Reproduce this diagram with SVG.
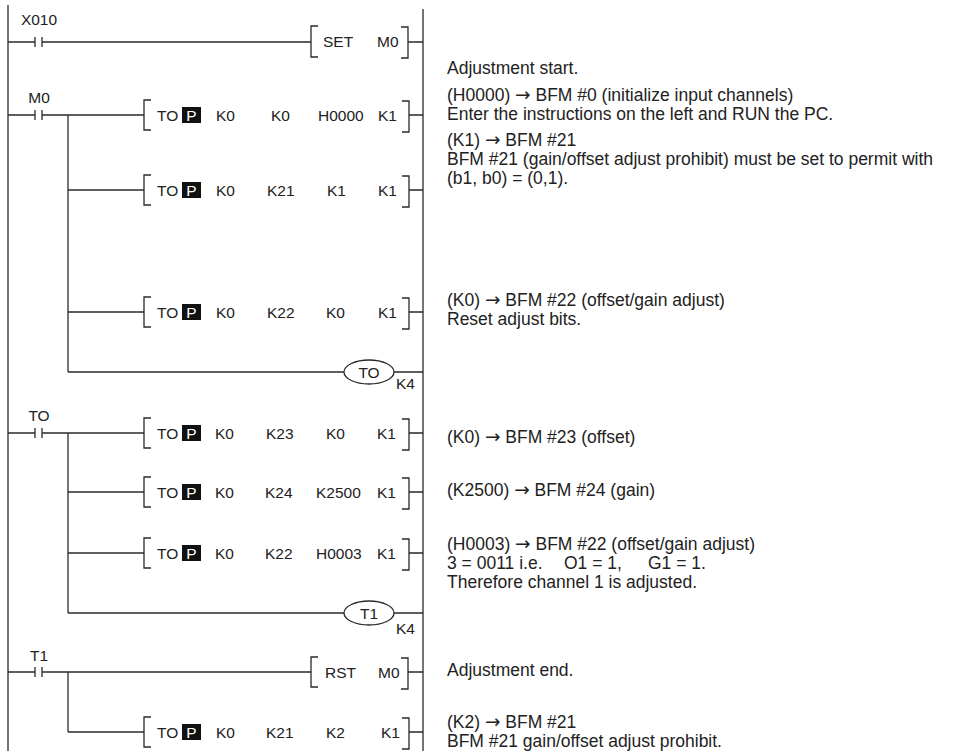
<svg xmlns="http://www.w3.org/2000/svg" width="966" height="751" viewBox="0 0 966 751">
<style>
.ln{fill:none;stroke:#2a2a2a;stroke-width:1.3}
.t{font-family:"Liberation Sans",Arial,sans-serif;font-size:15.5px;fill:#222}
.c{font-family:"Liberation Sans",Arial,sans-serif;font-size:17.5px;fill:#222}
.ar{font-family:"DejaVu Sans",sans-serif;font-size:18.5px}
.pb{fill:#111}
.pt{font-family:"Liberation Sans",Arial,sans-serif;font-size:15.5px;fill:#fff;text-anchor:middle}
.m{text-anchor:middle}
</style>
<rect width="966" height="751" fill="#fff"/>
<g id="connectors">
<path class="ln" d="M8 5V751M423 9V751"/>
<path class="ln" d="M8 42H35M35 37V47M42 37V47M42 42H311M408 42H423"/>
<path class="ln" d="M8 115H35M35 110V120M42 110V120M42 115H144M409 115H423"/>
<path class="ln" d="M68 115V372"/>
<path class="ln" d="M68 190H144M409 190H423"/>
<path class="ln" d="M68 312H144M409 312H423"/>
<path class="ln" d="M68 372H344M394 372H423"/>
<path class="ln" d="M8 433H35M35 428V438M42 428V438M42 433H144M409 433H423"/>
<path class="ln" d="M68 433V613"/>
<path class="ln" d="M68 492H144M409 492H423"/>
<path class="ln" d="M68 553H144M409 553H423"/>
<path class="ln" d="M68 613H344M394 613H423"/>
<path class="ln" d="M8 672H35M35 667V677M42 667V677M42 672H311M408 672H423"/>
<path class="ln" d="M68 672V732"/>
<path class="ln" d="M68 732H144M409 732H423"/>
</g>
<g id="contact-X010"><text class="t m" x="39" y="25">X010</text></g>
<g id="contact-M0"><text class="t m" x="39" y="103">M0</text></g>
<g id="contact-TO"><text class="t m" x="39" y="421">TO</text></g>
<g id="contact-T1"><text class="t m" x="39" y="661">T1</text></g>

<g id="set-M0">
<path class="ln" d="M318 26H311V57H318M401 27H408V58H401"/>
<text class="t" x="323" y="47">SET</text><text class="t" x="377" y="47">M0</text>
</g>
<g id="to-1">
<path class="ln" d="M151 100H144V130H151M402 101H409V132H402"/>
<text class="t" x="157" y="120.5">TO</text><rect class="pb" x="182" y="107" width="19" height="16"/><text class="pt" x="191.5" y="120.5">P</text>
<text class="t" x="216" y="120.5">K0</text><text class="t" x="271" y="120.5">K0</text><text class="t" x="318" y="120.5">H0000</text><text class="t" x="378" y="120.5">K1</text>
</g>
<g id="to-2">
<path class="ln" d="M151 175H144V205H151M402 176H409V207H402"/>
<text class="t" x="157" y="195.5">TO</text><rect class="pb" x="182" y="182" width="19" height="16"/><text class="pt" x="191.5" y="195.5">P</text>
<text class="t" x="216" y="195.5">K0</text><text class="t" x="267" y="195.5">K21</text><text class="t" x="327" y="195.5">K1</text><text class="t" x="378" y="195.5">K1</text>
</g>
<g id="to-3">
<path class="ln" d="M151 297H144V327H151M402 298H409V329H402"/>
<text class="t" x="157" y="317.5">TO</text><rect class="pb" x="182" y="304" width="19" height="16"/><text class="pt" x="191.5" y="317.5">P</text>
<text class="t" x="216" y="317.5">K0</text><text class="t" x="267" y="317.5">K22</text><text class="t" x="326" y="317.5">K0</text><text class="t" x="378" y="317.5">K1</text>
</g>
<g id="coil-TO">
<ellipse class="ln" cx="369" cy="372" rx="25" ry="12"/>
<text class="t m" x="369" y="377.5">TO</text><text class="t" x="396" y="389">K4</text>
</g>
<g id="to-4">
<path class="ln" d="M151 418H144V448H151M402 419H409V450H402"/>
<text class="t" x="157" y="438.5">TO</text><rect class="pb" x="182" y="425" width="19" height="16"/><text class="pt" x="191.5" y="438.5">P</text>
<text class="t" x="215" y="438.5">K0</text><text class="t" x="266" y="438.5">K23</text><text class="t" x="326" y="438.5">K0</text><text class="t" x="377" y="438.5">K1</text>
</g>
<g id="to-5">
<path class="ln" d="M151 477H144V507H151M402 478H409V509H402"/>
<text class="t" x="157" y="497.5">TO</text><rect class="pb" x="182" y="484" width="19" height="16"/><text class="pt" x="191.5" y="497.5">P</text>
<text class="t" x="215" y="497.5">K0</text><text class="t" x="265" y="497.5">K24</text><text class="t" x="316" y="497.5">K2500</text><text class="t" x="377" y="497.5">K1</text>
</g>
<g id="to-6">
<path class="ln" d="M151 538H144V568H151M402 539H409V570H402"/>
<text class="t" x="157" y="558.5">TO</text><rect class="pb" x="182" y="545" width="19" height="16"/><text class="pt" x="191.5" y="558.5">P</text>
<text class="t" x="215" y="558.5">K0</text><text class="t" x="265" y="558.5">K22</text><text class="t" x="316" y="558.5">H0003</text><text class="t" x="377" y="558.5">K1</text>
</g>
<g id="coil-T1">
<ellipse class="ln" cx="369" cy="613" rx="25" ry="12"/>
<text class="t m" x="369" y="618.5">T1</text><text class="t" x="396" y="634">K4</text>
</g>
<g id="rst-M0">
<path class="ln" d="M318 657H311V687H318M401 658H408V689H401"/>
<text class="t" x="325" y="677.5">RST</text><text class="t" x="378" y="677.5">M0</text>
</g>
<g id="to-7">
<path class="ln" d="M151 717H144V747H151M402 718H409V749H402"/>
<text class="t" x="157" y="737.5">TO</text><rect class="pb" x="182" y="724" width="19" height="16"/><text class="pt" x="191.5" y="737.5">P</text>
<text class="t" x="216" y="737.5">K0</text><text class="t" x="266" y="737.5">K21</text><text class="t" x="326" y="737.5">K2</text><text class="t" x="381" y="737.5">K1</text>
</g>
<g id="comments">
<text class="c" x="447" y="74">Adjustment start.</text>
<text class="c" x="447" y="101">(H0000) <tspan class="ar">→</tspan> BFM #0 (initialize input channels)</text>
<text class="c" x="447" y="120">Enter the instructions on the left and RUN the PC.</text>
<text class="c" x="447" y="146">(K1) <tspan class="ar">→</tspan> BFM #21</text>
<text class="c" x="447" y="165">BFM #21 (gain/offset adjust prohibit) must be set to permit with</text>
<text class="c" x="447" y="184">(b1, b0) = (0,1).</text>
<text class="c" x="447" y="306">(K0) <tspan class="ar">→</tspan> BFM #22 (offset/gain adjust)</text>
<text class="c" x="447" y="325">Reset adjust bits.</text>
<text class="c" x="447" y="443">(K0) <tspan class="ar">→</tspan> BFM #23 (offset)</text>
<text class="c" x="447" y="496">(K2500) <tspan class="ar">→</tspan> BFM #24 (gain)</text>
<text class="c" x="447" y="550">(H0003) <tspan class="ar">→</tspan> BFM #22 (offset/gain adjust)</text>
<text class="c" y="569"><tspan x="447">3 = 0011 i.e.</tspan><tspan x="564">O1 = 1,</tspan><tspan x="648">G1 = 1.</tspan></text>
<text class="c" x="447" y="588">Therefore channel 1 is adjusted.</text>
<text class="c" x="447" y="676">Adjustment end.</text>
<text class="c" x="447" y="728">(K2) <tspan class="ar">→</tspan> BFM #21</text>
<text class="c" x="447" y="747">BFM #21 gain/offset adjust prohibit.</text>
</g>
</svg>
